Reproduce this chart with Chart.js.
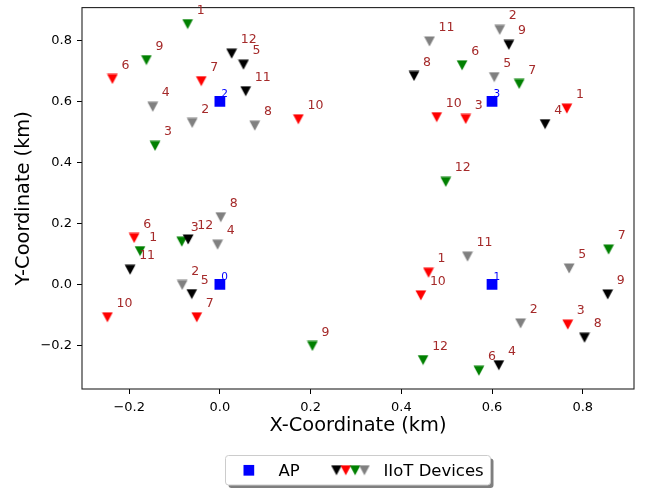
<!DOCTYPE html>
<html>
<head>
<meta charset="utf-8">
<script src="https://cdn.jsdelivr.net/npm/chart.js@4/dist/chart.umd.min.js"></script>
<style>
  html, body { margin: 0; padding: 0; background: #fff; }
  canvas { display: block; }
</style>
</head>
<body>
<canvas id="chartMapa" width="649" height="489"></canvas>
<script>
// === POSIÇÕES (km) ===
const apId = [0, 1, 2, 3];
const apX = [0, 0.6, 0, 0.6];
const apY = [0, 0, 0.6, 0.6];

const blackId = [12, 5, 11, 9, 8, 4, 11, 12, 5, 9, 8, 4];
const blackX = [0.026, 0.052, 0.057, 0.637, 0.428, 0.717, -0.198, -0.070, -0.062, 0.855, 0.804, 0.615];
const blackY = [0.756, 0.720, 0.633, 0.785, 0.683, 0.525, 0.048, 0.147, -0.032, -0.033, -0.175, -0.265];

const redId = [6, 7, 10, 1, 10, 3, 6, 7, 10, 1, 10, 3];
const redX = [-0.237, -0.041, 0.173, 0.765, 0.478, 0.542, -0.189, -0.051, -0.248, 0.460, 0.443, 0.767];
const redY = [0.673, 0.666, 0.541, 0.576, 0.548, 0.542, 0.152, -0.108, -0.108, 0.038, -0.036, -0.132];

const greenId = [1, 9, 3, 6, 7, 12, 1, 3, 9, 7, 12, 6];
const greenX = [-0.071, -0.162, -0.143, 0.534, 0.660, 0.498, -0.176, -0.084, 0.204, 0.857, 0.448, 0.571];
const greenY = [0.853, 0.735, 0.454, 0.718, 0.657, 0.336, 0.109, 0.140, -0.202, 0.114, -0.248, -0.283];

const grayId = [4, 2, 8, 11, 2, 5, 8, 4, 2, 11, 5, 2];
const grayX = [-0.148, -0.061, 0.077, 0.462, 0.617, 0.605, 0.002, -0.005, -0.083, 0.546, 0.770, 0.663];
const grayY = [0.582, 0.529, 0.520, 0.796, 0.834, 0.679, 0.220, 0.130, -0.002, 0.091, 0.052, -0.128];

const xTicks = [-0.2, 0.0, 0.2, 0.4, 0.6, 0.8];
const yTicks = [-0.2, 0.0, 0.2, 0.4, 0.6, 0.8];

// === ESTILO ===
const FONTE = "'DejaVu Sans', sans-serif";
const COR_ROTULO = "#a52a2a";

function triangulo(cor) {
  const c = document.createElement("canvas");
  c.width = 12;
  c.height = 11;
  const g = c.getContext("2d");
  g.fillStyle = cor;
  g.beginPath();
  g.moveTo(0.6, 0.6);
  g.lineTo(11.4, 0.6);
  g.lineTo(6, 10.4);
  g.closePath();
  g.fill();
  return c;
}

const grupos = [
  { cor: "#000000", id: blackId, x: blackX, y: blackY },
  { cor: "#ff0000", id: redId, x: redX, y: redY },
  { cor: "#008000", id: greenId, x: greenX, y: greenY },
  { cor: "#808080", id: grayId, x: grayX, y: grayY },
];
grupos.forEach(g => (g.marcador = triangulo(g.cor)));

const pontos = (xs, ys) => xs.map((x, i) => ({ x, y: ys[i] }));
const fmt = v => (v < -1e-9 ? "\u2212" : "") + Math.abs(v).toFixed(1);

// === MOLDURA DO GRÁFICO ===
const moldura = {
  id: "moldura",
  afterDatasetsDraw(chart) {
    const { ctx, chartArea: a } = chart;
    ctx.save();
    ctx.strokeStyle = "#222";
    ctx.lineWidth = 1.1;
    ctx.strokeRect(a.left, a.top, a.right - a.left, a.bottom - a.top);
    ctx.restore();
  }
};

// === RÓTULOS DOS PONTOS ===
const rotulos = {
  id: "rotulos",
  afterDatasetsDraw(chart) {
    const { ctx, scales: { x: sx, y: sy } } = chart;
    ctx.save();
    ctx.textAlign = "left";
    ctx.textBaseline = "alphabetic";
    ctx.font = "12.5px " + FONTE;
    ctx.fillStyle = COR_ROTULO;
    grupos.forEach(g => {
      g.id.forEach((n, i) => {
        ctx.fillText(String(n), sx.getPixelForValue(g.x[i] + 0.02), sy.getPixelForValue(g.y[i] + 0.034));
      });
    });
    ctx.font = "10.5px " + FONTE;
    ctx.fillStyle = "#0000ff";
    apId.forEach((n, i) => {
      ctx.fillText(String(n), sx.getPixelForValue(apX[i] + 0.003), sy.getPixelForValue(apY[i] + 0.015));
    });
    ctx.restore();
  }
};

// === LEGENDA ===
const legenda = {
  id: "legenda",
  afterDraw(chart) {
    const { ctx } = chart;
    const bx = 225.5, by = 455.5, bw = 265, bh = 29.5;
    ctx.save();
    ctx.fillStyle = "rgba(0,0,0,0.5)";
    ctx.beginPath();
    ctx.roundRect(bx + 3, by + 3, bw, bh, 3);
    ctx.fill();
    ctx.fillStyle = "#fff";
    ctx.strokeStyle = "#cccccc";
    ctx.lineWidth = 1;
    ctx.beginPath();
    ctx.roundRect(bx, by, bw, bh, 3);
    ctx.fill();
    ctx.stroke();

    const cy = by + bh / 2;
    ctx.fillStyle = "#0000ff";
    ctx.fillRect(bx + 18, cy - 5.3, 10.7, 10.7);

    grupos.forEach((g, i) => {
      ctx.drawImage(g.marcador, bx + 105 + i * 9.3, cy - 5.5);
    });

    ctx.fillStyle = "#000";
    ctx.font = "16.5px " + FONTE;
    ctx.textBaseline = "alphabetic";
    ctx.fillText("AP", bx + 53, cy + 5.5);
    ctx.fillText("IIoT Devices", bx + 158, cy + 5.5);
    ctx.restore();
  }
};

// === GRÁFICO DE DISPERSÃO ===
new Chart(document.getElementById("chartMapa"), {
  type: "scatter",
  data: {
    datasets: [
      {
        label: "AP",
        data: pontos(apX, apY),
        pointStyle: "rect",
        pointRadius: 7.6,
        backgroundColor: "#0000ff",
        borderWidth: 0
      },
      ...grupos.map(g => ({
        label: "IIoT Devices",
        data: pontos(g.x, g.y),
        pointStyle: g.marcador,
        pointRadius: 6,
        backgroundColor: g.cor,
        borderWidth: 0
      }))
    ]
  },
  options: {
    responsive: false,
    animation: false,
    layout: { padding: { left: 0, right: 15, top: 6, bottom: 50 } },
    plugins: { legend: { display: false }, tooltip: { enabled: false } },
    scales: {
      x: {
        type: "linear",
        min: -0.304,
        max: 0.913,
        afterBuildTicks: s => { s.ticks = xTicks.map(v => ({ value: v })); },
        afterFit: s => { s.height = 50; s.paddingLeft = 0; s.paddingRight = 0; },
        grid: { drawOnChartArea: false, drawTicks: true, tickLength: 5, tickColor: "#000", tickWidth: 1 },
        border: { display: false },
        ticks: { color: "#000", font: { family: FONTE, size: 13 }, padding: 6, maxRotation: 0, callback: fmt },
        title: { display: true, text: "X-Coordinate (km)", color: "#000", font: { family: FONTE, size: 19.4 }, padding: { top: 0, bottom: 1 } }
      },
      y: {
        type: "linear",
        min: -0.343,
        max: 0.907,
        afterBuildTicks: s => { s.ticks = yTicks.map(v => ({ value: v })); },
        afterFit: s => { s.width = 82; s.paddingTop = 0; s.paddingBottom = 0; },
        grid: { drawOnChartArea: false, drawTicks: true, tickLength: 5, tickColor: "#000", tickWidth: 1 },
        border: { display: false },
        ticks: { color: "#000", font: { family: FONTE, size: 13 }, padding: 5, callback: fmt },
        title: { display: true, text: "Y-Coordinate (km)", color: "#000", font: { family: FONTE, size: 19.4 }, padding: { top: 12, bottom: 0 } }
      }
    }
  },
  plugins: [moldura, rotulos, legenda]
});
</script>
</body>
</html>
